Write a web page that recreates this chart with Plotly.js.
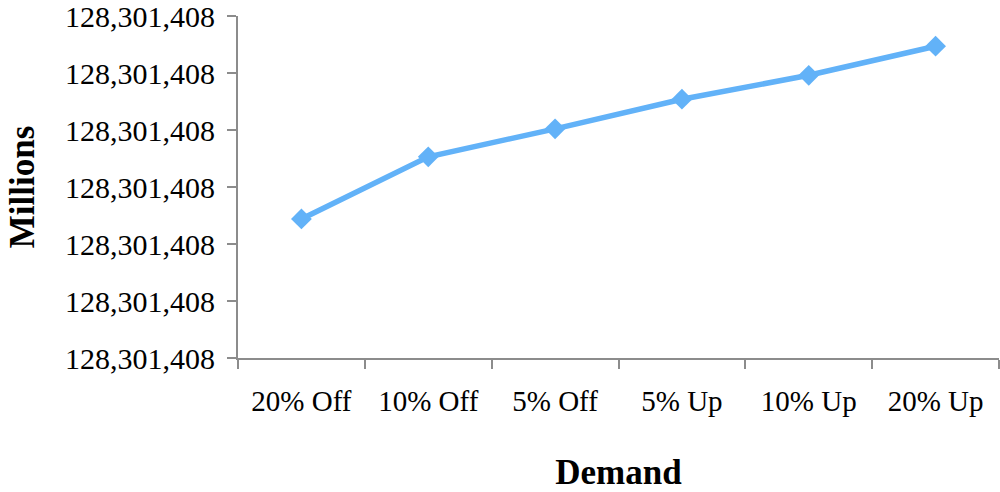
<!DOCTYPE html>
<html>
<head>
<meta charset="utf-8">
<script src="https://cdn.plot.ly/plotly-3.0.1.min.js"></script>
<style>html,body{margin:0;padding:0;background:#fff;}#chart{width:1000px;height:492px;}</style>
</head>
<body>
<div id="chart"></div>
<script>
// Categories (demand scenarios)
var categories = ["20% Off", "10% Off", "5% Off", "5% Up", "10% Up", "20% Up"];
// Series values, in tick-step units above the lowest gridline
var values = [2.44, 3.53, 4.02, 4.54, 4.96, 5.47];
// Y tick positions and their labels (all display the same rounded value)
var yTickVals = [0, 1, 2, 3, 4, 5, 6];
var yTickText = ["128,301,408", "128,301,408", "128,301,408", "128,301,408", "128,301,408", "128,301,408", "128,301,408"];

var font = "Liberation Serif, Times New Roman, serif";

var trace = {
  x: categories,
  y: values,
  type: "scatter",
  mode: "lines+markers",
  line: {color: "#62B2F8", width: 5.5},
  marker: {symbol: "diamond", size: 16, color: "#62B2F8"},
  hoverinfo: "x+y"
};

var layout = {
  width: 1000,
  height: 492,
  margin: {l: 238, r: 1, t: 16, b: 134},
  paper_bgcolor: "#ffffff",
  plot_bgcolor: "#ffffff",
  showlegend: false,
  font: {family: font, color: "#000000"},
  xaxis: {
    type: "category",
    range: [-0.5, 5.5],
    tickson: "boundaries",
    ticks: "outside",
    ticklen: 9,
    tickwidth: 2,
    tickcolor: "#8c8c8c",
    showline: true,
    linecolor: "#8c8c8c",
    linewidth: 2,
    showgrid: false,
    zeroline: false,
    tickfont: {family: font, size: 29, color: "#000"},
    ticklabelstandoff: 16,
    ticklabeloverflow: "allow",
    title: {text: "<b>Demand</b>", font: {family: font, size: 35, color: "#000"}, standoff: 44},
    automargin: false,
    fixedrange: true
  },
  yaxis: {
    range: [0, 6],
    tickmode: "array",
    tickvals: yTickVals,
    ticktext: yTickText,
    ticks: "outside",
    ticklen: 9,
    tickwidth: 2,
    tickcolor: "#8c8c8c",
    showline: true,
    linecolor: "#8c8c8c",
    linewidth: 2,
    showgrid: false,
    zeroline: false,
    tickfont: {family: font, size: 30, color: "#000"},
    ticklabelstandoff: 6,
    ticklabeloverflow: "allow",
    title: {text: "<b>Millions</b>", font: {family: font, size: 35, color: "#000"}, standoff: 20},
    automargin: false,
    fixedrange: true
  }
};

Plotly.newPlot("chart", [trace], layout, {displayModeBar: false, staticPlot: true});
</script>
</body>
</html>
